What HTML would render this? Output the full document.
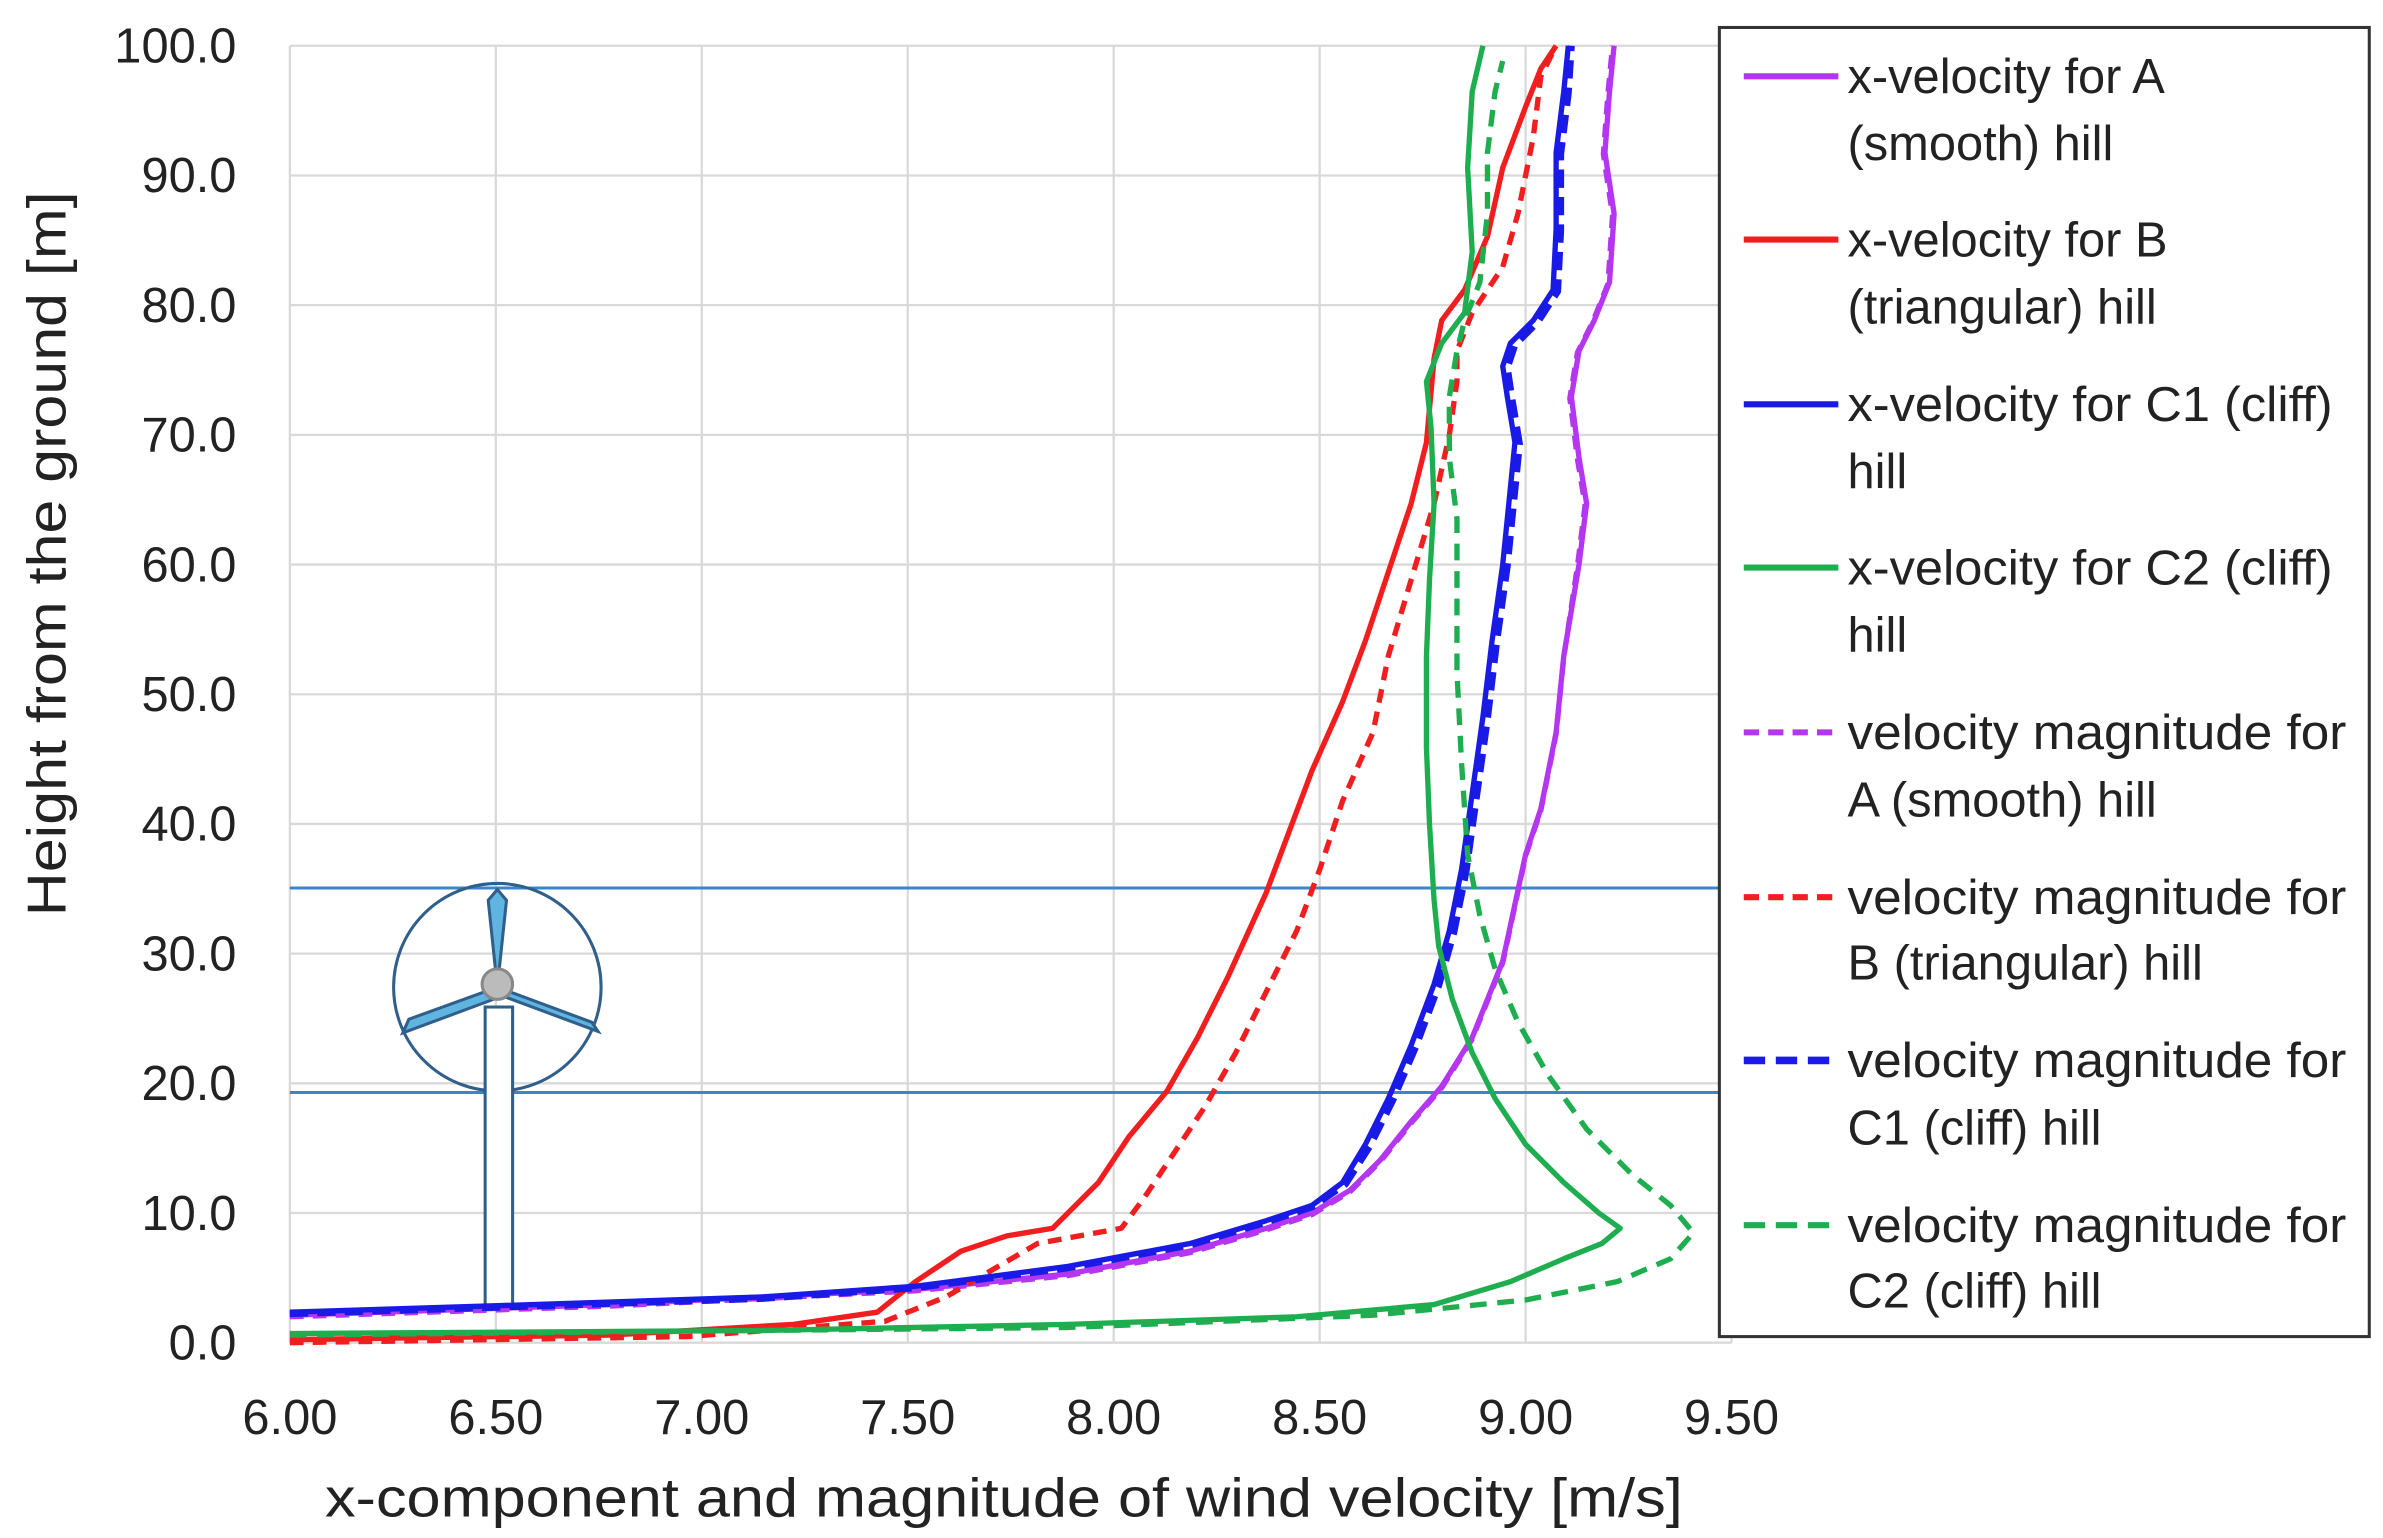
<!DOCTYPE html>
<html><head><meta charset="utf-8"><style>
html,body{margin:0;padding:0;background:#fff;}
svg{display:block;}
text{font-family:"Liberation Sans",sans-serif;fill:#222;}
</style></head><body>
<svg width="2383" height="1538" viewBox="0 0 1562 1008" preserveAspectRatio="none" xmlns="http://www.w3.org/2000/svg">
<rect width="1562" height="1008" fill="#fff"/>
<g stroke="#d9d9d9" stroke-width="1.5">
<line x1="190" y1="30" x2="1135" y2="30"/><line x1="190" y1="115" x2="1135" y2="115"/><line x1="190" y1="200" x2="1135" y2="200"/><line x1="190" y1="285" x2="1135" y2="285"/><line x1="190" y1="370" x2="1135" y2="370"/><line x1="190" y1="455" x2="1135" y2="455"/><line x1="190" y1="540" x2="1135" y2="540"/><line x1="190" y1="625" x2="1135" y2="625"/><line x1="190" y1="710" x2="1135" y2="710"/><line x1="190" y1="795" x2="1135" y2="795"/><line x1="190" y1="880" x2="1135" y2="880"/>
<line x1="190" y1="30" x2="190" y2="880"/><line x1="325" y1="30" x2="325" y2="880"/><line x1="460" y1="30" x2="460" y2="880"/><line x1="595" y1="30" x2="595" y2="880"/><line x1="730" y1="30" x2="730" y2="880"/><line x1="865" y1="30" x2="865" y2="880"/><line x1="1000" y1="30" x2="1000" y2="880"/><line x1="1135" y1="30" x2="1135" y2="880"/>
</g>
<g font-size="32" text-anchor="end">
<text x="155" y="41">100.0</text><text x="155" y="126">90.0</text><text x="155" y="211">80.0</text><text x="155" y="296">70.0</text><text x="155" y="381">60.0</text><text x="155" y="466">50.0</text><text x="155" y="551">40.0</text><text x="155" y="636">30.0</text><text x="155" y="721">20.0</text><text x="155" y="806">10.0</text><text x="155" y="891">0.0</text>
</g>
<g font-size="32" text-anchor="middle">
<text x="190" y="940">6.00</text><text x="325" y="940">6.50</text><text x="460" y="940">7.00</text><text x="595" y="940">7.50</text><text x="730" y="940">8.00</text><text x="865" y="940">8.50</text><text x="1000" y="940">9.00</text><text x="1135" y="940">9.50</text>
<text x="658" y="994" font-size="36" textLength="890" lengthAdjust="spacingAndGlyphs">x-component and magnitude of wind velocity [m/s]</text>
<text transform="translate(43,363) rotate(-90)" font-size="36" textLength="475" lengthAdjust="spacingAndGlyphs">Height from the ground [m]</text>
</g>
<g stroke="#3a86c8" stroke-width="2"><line x1="190" y1="582" x2="1127" y2="582"/><line x1="190" y1="716" x2="1127" y2="716"/></g>
<g stroke="#2f5f8a" stroke-width="2" fill="none">
<circle cx="326" cy="647" r="68"/>
<rect x="318" y="660" width="18" height="196" fill="#fff"/>
<path d="M326 647 L320 590 L326 583 L332 590 Z" fill="#5fb4e0"/>
<path d="M326 647 L268 668 L264 677 L326 654 Z" fill="#5fb4e0"/>
<path d="M326 647 L388 670 L392 676 L330 653 Z" fill="#5fb4e0"/>
<circle cx="326" cy="645" r="10" fill="#bbb" stroke="#888"/>
</g>
<g fill="none" stroke-width="3.5" stroke-linejoin="round">
<polyline stroke="#b536f0" points="190,862 400,855 600,845 700,835 780,820 830,805 860,795 885,780 905,760 925,735 945,712 965,680 985,630 1000,560 1010,530 1020,480 1025,430 1035,370 1040,330 1035,300 1030,260 1035,230 1045,210 1055,185 1058,140 1052,100 1055,60 1058,30"/>
<polyline stroke="#b536f0" stroke-dasharray="9,6" points="190,863 400,856 600,846 700,836 780,821 830,806 860,796 885,781 905,761 925,736 945,713 965,681 985,631 1000,561 1010,531 1020,481 1025,431 1034,371 1039,331 1034,301 1029,261 1034,231 1044,211 1054,186 1057,141 1051,101 1054,61 1057,30"/>
<polyline stroke="#f01e1e" points="190,878 400,875 520,868 575,860 600,840 630,820 660,810 690,805 700,795 720,775 740,745 765,715 785,680 805,640 830,585 845,545 860,505 880,460 895,420 910,375 925,330 935,290 940,235 945,210 960,190 975,155 985,110 1000,70 1010,45 1020,30"/>
<polyline stroke="#f01e1e" stroke-dasharray="9,6" points="190,880 450,876 580,866 620,850 680,815 735,805 750,785 770,755 790,725 810,690 830,650 850,610 865,570 880,525 900,480 910,430 925,380 940,330 950,285 955,250 955,230 965,205 985,175 995,140 1005,90 1010,50 1020,30"/>
<polyline stroke="#1a1ae6" points="190,860 350,855 500,850 600,843 700,830 780,815 830,800 860,790 880,775 895,750 910,720 925,685 940,645 950,610 958,570 965,520 972,470 978,420 985,370 990,320 993,290 988,260 985,240 990,225 1005,210 1018,190 1020,150 1020,100 1025,60 1028,30"/>
<polyline stroke="#1a1ae6" stroke-width="4.5" stroke-dasharray="12,6" points="190,861 350,856 500,851 600,844 700,831 780,816 830,801 860,791 882,776 898,751 913,721 928,686 943,646 953,611 961,571 968,521 975,471 981,421 988,371 993,321 996,291 991,261 988,241 993,226 1008,211 1021,191 1023,151 1023,101 1028,61 1030,30"/>
<polyline stroke="#1fae4f" points="190,874 500,872 700,868 850,863 940,855 990,840 1025,825 1050,815 1062,805 1048,795 1025,775 1000,750 980,720 965,690 952,655 943,620 940,590 937,540 935,490 935,430 937,380 940,330 938,280 935,250 945,225 960,205 965,165 962,110 965,60 972,30"/>
<polyline stroke="#1fae4f" stroke-dasharray="11,7" points="190,875 700,870 900,862 1000,852 1060,840 1095,825 1110,808 1095,790 1070,770 1040,740 1015,705 995,670 980,635 970,600 962,560 958,500 955,440 955,390 955,340 950,300 950,260 955,230 960,210 970,185 975,140 975,100 980,60 985,40"/>
</g>
<rect x="1127" y="18" width="426" height="858" fill="#fff" stroke="#333" stroke-width="2"/>
<g stroke-width="4" fill="none">
<line x1="1143" y1="50" x2="1205" y2="50" stroke="#b536f0"/>
<line x1="1143" y1="157" x2="1205" y2="157" stroke="#f01e1e"/>
<line x1="1143" y1="265" x2="1205" y2="265" stroke="#1a1ae6"/>
<line x1="1143" y1="372" x2="1205" y2="372" stroke="#1fae4f"/>
<line x1="1143" y1="480" x2="1205" y2="480" stroke="#b536f0" stroke-dasharray="10,6"/>
<line x1="1143" y1="588" x2="1205" y2="588" stroke="#f01e1e" stroke-dasharray="10,6"/>
<line x1="1143" y1="695" x2="1205" y2="695" stroke="#1a1ae6" stroke-width="5" stroke-dasharray="14,7"/>
<line x1="1143" y1="803" x2="1205" y2="803" stroke="#1fae4f" stroke-dasharray="14,7"/>
</g>
<g font-size="32">
<text x="1211" y="61">x-velocity for A</text><text x="1211" y="105">(smooth) hill</text>
<text x="1211" y="168">x-velocity for B</text><text x="1211" y="212">(triangular) hill</text>
<text x="1211" y="276" textLength="318" lengthAdjust="spacingAndGlyphs">x-velocity for C1 (cliff)</text><text x="1211" y="320">hill</text>
<text x="1211" y="383" textLength="318" lengthAdjust="spacingAndGlyphs">x-velocity for C2 (cliff)</text><text x="1211" y="427">hill</text>
<text x="1211" y="491" textLength="327" lengthAdjust="spacingAndGlyphs">velocity magnitude for</text><text x="1211" y="535">A (smooth) hill</text>
<text x="1211" y="599" textLength="327" lengthAdjust="spacingAndGlyphs">velocity magnitude for</text><text x="1211" y="642">B (triangular) hill</text>
<text x="1211" y="706" textLength="327" lengthAdjust="spacingAndGlyphs">velocity magnitude for</text><text x="1211" y="750">C1 (cliff) hill</text>
<text x="1211" y="814" textLength="327" lengthAdjust="spacingAndGlyphs">velocity magnitude for</text><text x="1211" y="857">C2 (cliff) hill</text>
</g>
</svg>
</body></html>
